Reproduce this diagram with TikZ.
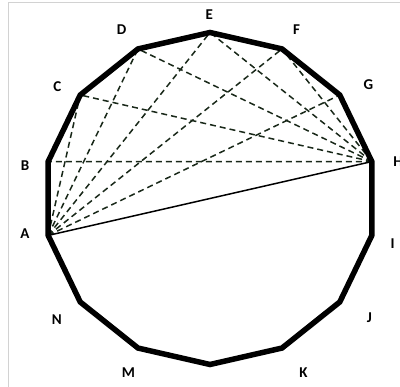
\documentclass[tikz,border=0pt]{standalone}
\usepackage{fontspec}
\setmainfont{Carlito}
\usetikzlibrary{calc}
\definecolor{ink}{RGB}{0,0,0}
\definecolor{rule}{RGB}{210,210,210}
\definecolor{chordink}{RGB}{25,40,25}
\tikzset{
  rim/.style={draw=ink,line width=5.5pt,line join=miter},
  chord/.style={draw=chordink,line width=1.5pt,dash pattern=on 6pt off 4pt},
  diag/.style={draw=ink,line width=1.5pt},
  lbl/.style={font=\bfseries\fontsize{15}{15}\selectfont,text=ink,inner sep=0pt},
}

\begin{document}
\begin{tikzpicture}[x=1pt,y=1pt]
  \useasboundingbox (0,0) rectangle (400,387);
  \draw[rule,line width=1pt] (8,0) -- (8,384) -- (400,384);
  \coordinate (O) at (210,188.5);
  % the fourteen corners
  \foreach \v [count=\i from 0] in {A,B,C,D,E,F,G,H,I,J,K,L,M,N}
    \coordinate (\v) at ($(O)+({192.857-25.714*\i}:166)$);
  % dashed fans from A and H
  \foreach \v in {C,D,E,F,G} \draw[chord] (A) -- (\v);
  \foreach \v in {B,C,D,E,F} \draw[chord] (H) -- (\v);
  \draw[diag] (A) -- (H);
  \draw[rim] (A) -- (B) -- (C) -- (D) -- (E) -- (F) -- (G) -- (H) -- (I)
    -- (J) -- (K) -- (L) -- (M) -- (N) -- cycle;
  % corner letters
  \foreach \v/\a/\r in {A/190.9/188.4, B/169.9/187.9, C/143.8/189.3,
      D/117.6/190.9, E/90.2/183.5, F/62.9/190.1, G/35.8/195.2, H/11.1/191.6,
      I/-13.8/188.1, J/-36.9/199.3, K/-61.8/197.6, M/-115.1/192.4,
      N/-141.6/195.6}
    \node[lbl] (l\v) at ($(O)+(\a:\r)$) {\v};
\end{tikzpicture}
\end{document}
